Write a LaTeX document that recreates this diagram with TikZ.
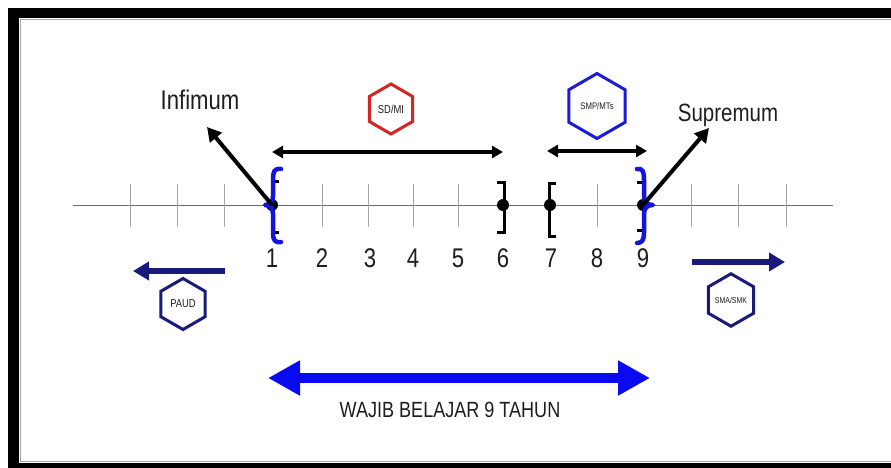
\documentclass[tikz,border=0pt]{standalone}
\usepackage{fontspec}
\setmainfont{Liberation Sans}
\newfontfamily\nar[FakeStretch=0.82]{Liberation Sans}
\usetikzlibrary{arrows.meta,shapes.geometric}
\definecolor{txt}{RGB}{30,30,30}
\definecolor{hexred}{RGB}{212,36,36}
\definecolor{hexblue}{RGB}{28,28,212}
\definecolor{navy}{RGB}{26,26,122}
\definecolor{braceblue}{RGB}{20,20,222}
\definecolor{bigblue}{RGB}{10,10,240}
\definecolor{axisgray}{RGB}{110,110,110}
\definecolor{tickgray}{RGB}{165,165,165}
\begin{document}
\begin{tikzpicture}[x=1pt,y=-1pt,
  axisline/.style={draw=axisgray,line width=1pt},
  tickline/.style={draw=tickgray,line width=1pt},
  dot/.style={circle,fill=black,inner sep=0pt,minimum size=12pt},
  num/.style={font=\nar\fontsize{27}{27}\selectfont,text=txt,inner sep=0pt},
  lbl/.style={font=\nar\fontsize{27}{27}\selectfont,text=txt,inner sep=0pt},
  hex/.style={regular polygon,regular polygon sides=6,shape border rotate=30,
    inner sep=0pt,line width=3pt,draw=#1,text=txt},
  blkarrow/.style={draw=black,line width=4pt,-{Triangle[length=14pt,width=15pt]}},
  dblarrow/.style={draw=black,line width=4pt,{Triangle[length=11pt,width=12pt]}-{Triangle[length=11pt,width=12pt]}},
  navyarrow/.style={draw=navy,line width=6pt,-{Triangle[length=16pt,width=18pt]}},
  bigarrow/.style={draw=bigblue,line width=10pt,{Triangle[length=32pt,width=33pt]}-{Triangle[length=32pt,width=33pt]}},
  bkt/.style={draw=black,line width=3pt},
  brace/.style={draw=braceblue,line width=4.5pt,line cap=round,line join=round}
]
\useasboundingbox (0,0) rectangle (891,468);
\fill[white] (0,0) rectangle (891,468);
% frame
\fill[black] (8,8) rectangle (891,18);
\fill[black] (8,8) rectangle (19,468);
\fill[black] (8,463) rectangle (891,468);
\draw[gray!70,line width=1pt] (891,19.5) -- (20.5,19.5) -- (20.5,461.5) -- (891,461.5);

% number line
\coordinate (axL) at (73,205);
\coordinate (axR) at (833,205);
\draw[axisline] (axL) -- (axR);
\foreach \x in {130,177,224,322,368,413,458,597,691,738,786}
  \draw[tickline] (\x,184) -- (\x,227);

% dots
\node[dot] (d1) at (272,205) {};
\node[dot] (d6) at (503,205) {};
\node[dot] (d7) at (550,205) {};
\node[dot] (d9) at (643,205) {};

% brackets
\draw[bkt] (279,181) -- (273,181) -- (273,232) -- (279,232);
\draw[bkt] (497,182) -- (504,182) -- (504,232) -- (497,232);
\draw[bkt] (556,183) -- (549,183) -- (549,236) -- (556,236);
\draw[bkt] (637,182) -- (643,182) -- (643,230) -- (637,230);
% braces
\draw[brace] (281,169) .. controls (274,168) and (273,172) .. (273,180) -- (273,196)
  .. controls (273,202) and (270,205) .. (265,205)
  .. controls (270,205) and (273,208) .. (273,214) -- (273,233)
  .. controls (273,240) and (275,243) .. (281,242);
\draw[brace] (637,169) .. controls (643,168) and (644,172) .. (644,180) -- (644,196)
  .. controls (644,202) and (647,205) .. (653,205)
  .. controls (647,205) and (644,208) .. (644,214) -- (644,233)
  .. controls (644,240) and (642,243) .. (637,243);

% numbers
\node[num] (n1) at (272,258) {1};
\node[num] (n2) at (322,258) {2};
\node[num] (n3) at (370,258) {3};
\node[num] (n4) at (413,258) {4};
\node[num] (n5) at (458,258) {5};
\node[num] (n6) at (503,258) {6};
\node[num] (n7) at (551,258) {7};
\node[num] (n8) at (597,258) {8};
\node[num] (n9) at (643,258) {9};

% infimum / supremum
\node[lbl,anchor=base] (inf) at (200,110) {Infimum};
\node[lbl,anchor=base,font=\nar\fontsize{25}{25}\selectfont] (sup) at (728,122) {Supremum};
\coordinate (infT) at (207,127);
\coordinate (supT) at (709,128);
\draw[blkarrow] (d1.center) -- (infT);
\draw[blkarrow] (d9.center) -- (supT);

% range arrows
\coordinate (r1L) at (272,152);
\coordinate (r1R) at (503,152);
\coordinate (r2L) at (547,151);
\coordinate (r2R) at (647,151);
\draw[dblarrow] (r1L) -- (r1R);
\draw[dblarrow] (r2L) -- (r2R);

% hexagons
\node[hex=hexred,minimum size=50pt,font=\nar\fontsize{11.5}{12}\selectfont] (sd) at (391,109) {SD/MI};
\node[hex=hexblue,minimum size=65pt,font=\nar\fontsize{9.5}{10}\selectfont] (smp) at (597,106) {SMP/MTs};
\node[hex=navy,minimum size=51pt,font=\nar\fontsize{11.5}{12}\selectfont] (paud) at (183,304) {PAUD};
\node[hex=navy,minimum size=52pt,font=\nar\fontsize{8.5}{9}\selectfont] (sma) at (731,300) {SMA/SMK};

% side arrows
\coordinate (pS) at (225,271);
\coordinate (pT) at (133,271);
\draw[navyarrow] (pS) -- (pT);
\coordinate (sS) at (692,262);
\coordinate (sT) at (785,262);
\draw[navyarrow] (sS) -- (sT);

% big arrow
\coordinate (bL) at (268,378);
\coordinate (bR) at (650,378);
\draw[bigarrow] (bL) -- (bR);
\node[lbl,anchor=base,font=\nar\fontsize{22}{22}\selectfont] (wajib) at (450,417) {WAJIB BELAJAR 9 TAHUN};
\end{tikzpicture}
\end{document}
